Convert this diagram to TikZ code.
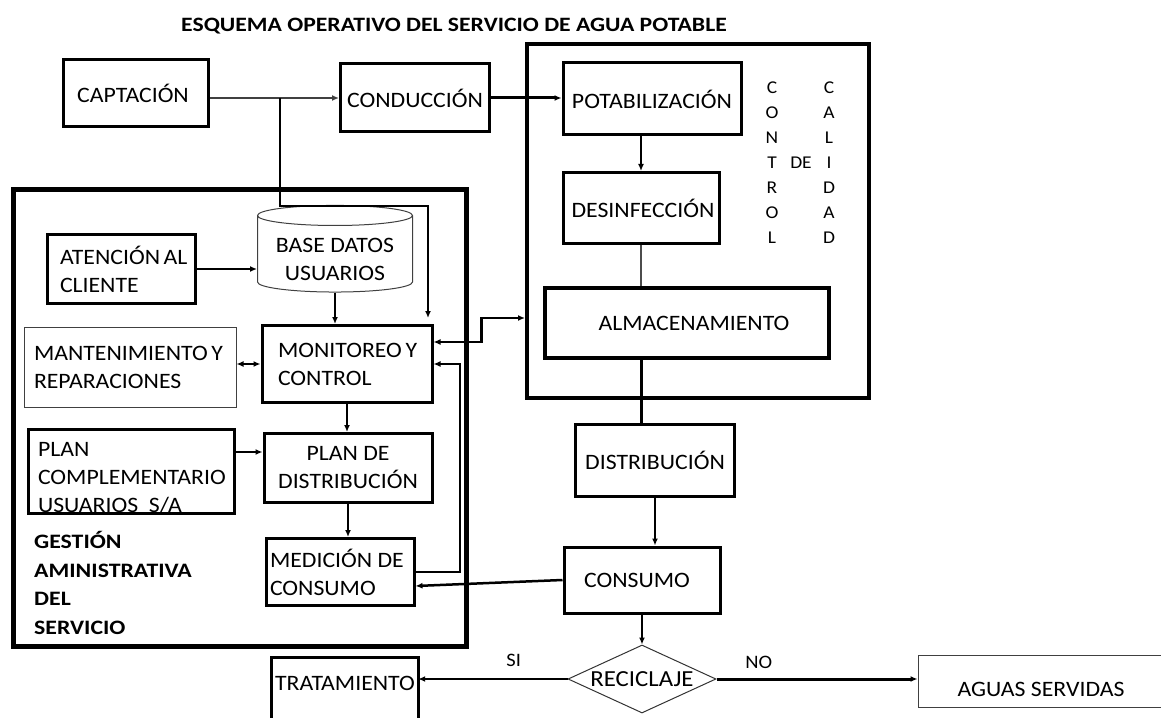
\documentclass[tikz,border=0pt]{standalone}
\usepackage{fontspec}
\setmainfont{Carlito}[FakeStretch=1.08,BoldFeatures={FakeStretch=1.16}]
\usetikzlibrary{arrows.meta,shapes.geometric}

\newcommand{\letra}{\fontsize{22}{28}\selectfont}
\newcommand{\letrachica}{\fontsize{18}{25}\selectfont}
% texto de varias lineas desplazado en vertical
\newcommand{\bajar}[3]{\raisebox{#1}[\height][\depth]{\begin{tabular}{@{}#2@{}}#3\end{tabular}}}

\tikzset{
  caja/.style={draw,line width=3pt,inner sep=0pt,font=\letra,align=flush center},
  cajafina/.style={draw=black!75,line width=1pt,inner sep=0pt,font=\letra,align=flush left},
  flecha/.style={-{Latex[length=7pt,width=6pt]}},
  flechas/.style={{Latex[length=7pt,width=6pt]}-{Latex[length=7pt,width=6pt]}},
  etiqueta/.style={font=\fontsize{19}{24}\selectfont}
}

\begin{document}
\begin{tikzpicture}[x=1pt,y=-1pt]
    \useasboundingbox (0,0) rectangle (1161,719);

    % titulo
    \node[font=\bfseries\fontsize{20.4}{24}\selectfont] (titulo) at (454,26) {ESQUEMA OPERATIVO DEL SERVICIO DE AGUA POTABLE};

    % captacion y conduccion
    \node[caja,minimum width=145pt,minimum height=67pt] (captacion) at (136,93) {CAPTACIÓN\hspace*{6pt}};
    \node[caja,minimum width=149pt,minimum height=68pt] (conduccion) at (415,98) {CONDUCCIÓN};

    % control de calidad
    \node[draw,line width=4pt,minimum width=342pt,minimum height=353pt] (control) at (698,221) {};
    \node[caja,minimum width=178pt,minimum height=72pt] (potabilizacion) at (652,99) {POTABILIZACIÓN};
    \node[caja,minimum width=156pt,minimum height=71pt] (desinfeccion) at (641,208) {\hspace*{4pt}DESINFECCIÓN};
    \node[caja,line width=4.5pt,minimum width=284pt,minimum height=70pt] (almacenamiento) at (687,323) {\hspace*{14pt}ALMACENAMIENTO};
    \node[font=\letrachica,align=center] (colcontrol) at (772,163) {C\\O\\N\\T\\R\\O\\L};
    \node[font=\letrachica] (colde) at (801,163) {DE};
    \node[font=\letrachica,align=center] (colcalidad) at (829,163) {C\\A\\L\\I\\D\\A\\D};

    % gestion administrativa
    \node[draw,line width=5pt,minimum width=453pt,minimum height=456pt] (gestion) at (240,418) {};
    \node[caja,align=flush left,text width=122pt,inner xsep=13pt,minimum height=68pt] (atencion) at (121,269) {ATENCIÓN~AL\\CLIENTE};
    \node[cylinder,shape border rotate=90,aspect=0.17,draw=black!75,line width=1pt,inner sep=0pt,
          minimum width=155pt,minimum height=82pt,font=\letra] (basedatos) at (335,254) {\bajar{-7pt}{c}{BASE DATOS\\USUARIOS}};
    \node[caja,align=flush left,text width=138pt,inner xsep=16pt,minimum height=77pt] (monitoreo) at (347,364) {MONITOREO\,Y\\CONTROL};
    \node[cajafina,text width=192pt,inner xsep=10pt,minimum height=80pt] (mantenimiento) at (130,367) {MANTENIMIENTO\,Y\\REPARACIONES};
    \node[caja,align=flush left,text width=186pt,inner xsep=10pt,minimum height=83pt] (plancomplementario) at (131,471) {\bajar{-8pt}{l}{PLAN\\COMPLEMENTARIO\\USUARIOS~~S/A}};
    \node[caja,minimum width=168pt,minimum height=69pt] (plandistribucion) at (348,468) {PLAN DE\\DISTRIBUCIÓN};
    \node[caja,align=flush left,text width=140pt,inner xsep=4pt,minimum height=67pt] (medicion) at (340,572) {MEDICIÓN~DE\\CONSUMO};
    \node[font=\bfseries\fontsize{20.5}{28.5}\selectfont,align=flush left,anchor=west,inner sep=0pt] (txtgestion) at (34,583) {GESTIÓN\\AMINISTRATIVA\\DEL\\SERVICIO};

    % distribucion y consumo
    \node[caja,minimum width=159pt,minimum height=72pt] (distribucion) at (655,460) {DISTRIBUCIÓN};
    \node[caja,minimum width=156pt,minimum height=66pt] (consumo) at (642,580) {CONSUMO\hspace*{10pt}};
    \node[diamond,aspect=2.2,draw=black!80,line width=1pt,inner sep=0pt,minimum width=148pt,minimum height=68pt,font=\fontsize{23}{28}\selectfont] (reciclaje) at (642,679) {RECICLAJE};
    \node[minimum width=146pt,minimum height=50pt,inner sep=0pt,font=\letra] (tratamiento) at (345,683) {TRATAMIENTO};
    \draw[line width=3pt] (tratamiento.north west) ++(0,60) -- (tratamiento.north west) -- (tratamiento.north east) -- ++(0,60);
    \node[cajafina,align=center,minimum width=246pt,minimum height=52pt] (aguas) at (1041,681) {\raisebox{-8pt}[\height][\depth]{AGUAS SERVIDAS}};

    % conexiones de la linea principal
    \draw[flecha,line width=1.5pt,black!75] (captacion.east |- conduccion.west) -- (conduccion.west);
    \coordinate (rama) at (280,98);
    \coordinate (llegada) at (428,318);
    \draw[flecha,line width=1.5pt] (rama) -- ++(0,108) -| (llegada);
    \draw[flecha,line width=3pt] (conduccion.east) -- (conduccion.east -| potabilizacion.west);
    \draw[flecha,line width=2.5pt] (desinfeccion.north |- potabilizacion.south) -- (desinfeccion.north);
    \draw[line width=2pt,black!70] (desinfeccion.south) -- (desinfeccion.south |- almacenamiento.north);
    \draw[line width=3pt] (desinfeccion.south |- almacenamiento.south) -- (desinfeccion.south |- distribucion.north);
    \draw[flecha,line width=2.5pt] (distribucion.south) -- (distribucion.south |- consumo.north);
    \draw[flecha,line width=2.5pt] (consumo.west) -- ([yshift=-14pt]medicion.east);
    \draw[flecha,line width=1.5pt] (consumo.south) -- (reciclaje.north);
    \draw[flecha,line width=1.5pt] (reciclaje.west) -- node[etiqueta,pos=0.36,above=8pt] (si) {SI} (reciclaje.west -| tratamiento.east);
    \draw[flecha,line width=3pt] (reciclaje.east) -- node[etiqueta,pos=0.21,above=6pt] (no) {NO} (reciclaje.east -| aguas.west);

    % conexiones de la gestion
    \draw[flecha,line width=2.5pt] (atencion.east) -- (atencion.east -| basedatos.west);
    \draw[flecha,line width=2pt] (basedatos.south) -- (basedatos.south |- monitoreo.north);
    \draw[flechas,line width=1.5pt] (monitoreo.west -| mantenimiento.east) -- (monitoreo.west);
    \draw[flecha,line width=1.5pt] (monitoreo.south) -- (monitoreo.south |- plandistribucion.north);
    \draw[flecha,line width=1.5pt] ([yshift=16pt]plandistribucion.west -| plancomplementario.east) -- ([yshift=16pt]plandistribucion.west);
    \draw[flecha,line width=1.5pt] (plandistribucion.south) -- (plandistribucion.south |- medicion.north);
    \draw[flecha,line width=2pt] (medicion.east) -- ++(44,0) |- (monitoreo.east);
    \draw[flechas,line width=2.5pt] ([yshift=22pt]monitoreo.east) -- ++(48,0) |- ([yshift=5pt]almacenamiento.west -| control.west);
\end{tikzpicture}
\end{document}
